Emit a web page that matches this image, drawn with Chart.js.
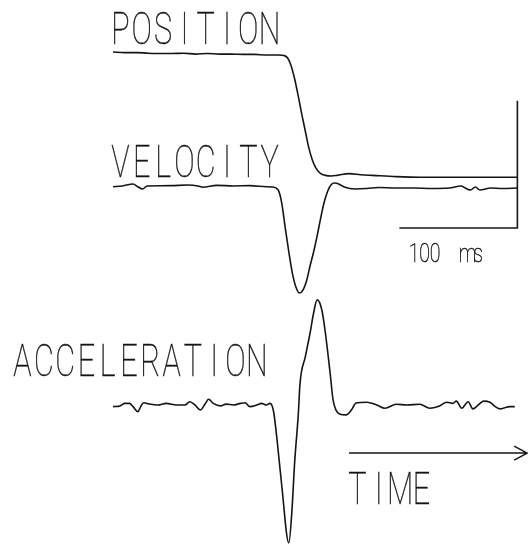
<!DOCTYPE html>
<html>
<head>
<meta charset="utf-8">
<style>
  html, body { margin: 0; padding: 0; background: #ffffff; }
  #wrap { width: 528px; height: 544px; position: relative; }
</style>
<script src="https://cdn.jsdelivr.net/npm/chart.js@4.4.1/dist/chart.umd.min.js"></script>
</head>
<body>
<div id="wrap"><canvas id="c"></canvas></div>
<script>
// Time in ms from the start of the record.
const posTime = [0, 10, 20, 30, 40, 50, 60, 70, 80, 90, 100, 110, 120, 130, 140, 145, 148, 151, 154, 157, 160, 163, 166, 169, 172, 176, 180, 185, 190, 200, 210, 220, 240, 260, 280, 300, 320, 342.5];
// Eye position (deg)
const posDeg = [0.5, 0.4, 0.4, 0.3, 0.25, 0.25, 0.3, 0.15, 0.25, 0.15, 0.15, 0.1, 0.1, 0, 0, -0.1, -0.5, -1.8, -4.0, -6.8, -9.8, -12.6, -15.4, -17.4, -18.7, -19.6, -19.9, -20.0, -19.9, -19.6, -19.8, -19.9, -20.1, -20.2, -20.2, -20.2, -20.2, -20.2];

const velTime = [0, 8, 17, 21, 25, 29, 40, 50, 63, 72, 76, 88, 102, 116, 130, 135, 140, 143, 146, 149, 152, 155, 158, 161, 164, 167, 170, 173, 176, 179, 182, 185, 188, 192, 196, 205, 215, 225, 240, 255, 270, 285, 295, 300, 303, 307, 311, 320, 330, 342.5];
// Eye velocity (deg/s)
const velDegPerSec = [2, 7, 20, 2, -13, 7, 8, 9, 13, 7, -2, 11, 7, 9, 2, 0, -20, -106, -271, -429, -568, -660, -700, -680, -620, -521, -429, -323, -205, -99, -26, 17, 26, 17, 0, -13, -10, -3, -7, -7, -10, -7, 7, -13, -20, 0, -20, -7, -10, -7];

const accTime = [0, 6, 10, 14, 17, 21, 23.5, 26, 31, 38, 45, 54, 61, 65, 69.5, 74, 78, 81, 85, 91, 96, 102, 108, 112, 116, 122, 126, 130, 133, 136, 139, 143, 149, 151.5, 154, 157, 158.5, 163, 167, 170, 173, 177, 180, 184, 186.5, 189, 192, 197.5, 202, 206, 215, 223.5, 230.5, 240, 249, 260, 268.5, 275.5, 283, 288, 291, 295.5, 301, 305, 309.5, 314, 319.5, 324, 328, 332, 336, 340.5];
// Eye acceleration (10^3 deg/s^2)
const accKDegPerSec2 = [-0.7, -0.4, 0.7, 0.7, -0.7, -2.9, -0.7, 1.0, 0.4, 0, 0.7, 0, 0, 1.4, 0, -2.2, 0.4, 2.5, 0.7, -0.4, 0.4, 0, 0.7, 1.0, -0.7, 0, 0.7, 0, 0.7, -2.6, -15, -35, -60, -47, -24.5, -4.3, 9.4, 21, 31.3, 40, 45.7, 41.3, 31.3, 13.9, 2.2, -2.2, -3.9, -4.3, -2.2, 0.9, 1.2, 0, -1.4, 0.3, 0, 0.3, -1.4, -0.7, 1.2, 0.7, 1.7, -1.4, 1.4, -1.7, 0, 1.7, 1.2, -0.7, -1.7, -1.2, -0.7, -0.7];

// Calibration bars: 100 ms horizontal, position vertical
const scaleBarMs = [242.7, 342.7, 342.7];
const scaleBarDeg = [-28.6, -28.6, -7.55];
const timeArrowMs = [200, 351];

const traceLabels = ['POSITION', 'VELOCITY', 'ACCELERATION'];
const timeLabel = 'TIME';
const scaleBarLabel = '100 ms';

const INK = '#151515';
const W = 528, H = 544;

// Horizontal range: value 0 at pixel zeroPx, growing to the right.
function xRangeFor(zeroPx, pxPerUnit, span) {
  const min = -zeroPx / pxPerUnit;
  return { min: min, max: min + span / pxPerUnit };
}
// Vertical range: value 0 at pixel zeroPx (from the top), growing upward.
function yRangeFor(zeroPx, pxPerUnit, span) {
  const max = zeroPx / pxPerUnit;
  return { min: max - span / pxPerUnit, max: max };
}
const xRange = xRangeFor(113, 1.18, W);
const posRange = yRangeFor(55, 6.05, H);
const velRange = yRangeFor(187, 1 / 6.6, H);
const accRange = yRangeFor(405, 2.3, H);

const pts = (xs, ys) => xs.map((x, i) => ({ x: x, y: ys[i] }));

// Plotter-style lettering: each glyph centred in a fixed-width cell, narrowed.
function drawSpaced(ctx, text, firstCenterX, baseline, cell, sizePx, scaleX, spaceAdv) {
  ctx.save();
  ctx.fillStyle = INK;
  ctx.strokeStyle = INK;
  ctx.lineWidth = 0.45;
  ctx.font = '100 ' + sizePx + 'px Roboto, "DejaVu Sans", sans-serif';
  ctx.textAlign = 'center';
  ctx.textBaseline = 'alphabetic';
  let x = firstCenterX;
  for (const ch of text) {
    if (ch === ' ') { x += spaceAdv; continue; }
    ctx.save();
    ctx.translate(x, baseline);
    ctx.scale(scaleX, 1);
    ctx.fillText(ch, 0, 0);
    ctx.strokeText(ch, 0, 0);
    ctx.restore();
    x += cell;
  }
  ctx.restore();
}

const annotations = {
  id: 'annotations',
  afterDatasetsDraw(chart) {
    const ctx = chart.ctx;
    const xs = chart.scales.x, ya = chart.scales.yAcc;
    // trace labels
    drawSpaced(ctx, traceLabels[0], 120.5, 44, 21.3, 45, 0.68, 21.3);
    drawSpaced(ctx, traceLabels[1], 120.5, 177, 21.3, 45, 0.68, 21.3);
    drawSpaced(ctx, traceLabels[2], 22.5, 376, 21.3, 45, 0.68, 21.3);
    drawSpaced(ctx, timeLabel, 357.5, 504, 21.3, 45, 0.68, 21.3);
    drawSpaced(ctx, scaleBarLabel, 414, 262, 10.5, 25, 0.78, 22);

    // time arrow
    const x0 = xs.getPixelForValue(timeArrowMs[0]);
    const x1 = xs.getPixelForValue(timeArrowMs[1]);
    const y = ya.getPixelForValue(-20.9);
    ctx.save();
    ctx.strokeStyle = INK;
    ctx.lineWidth = 1.5;
    ctx.beginPath();
    ctx.moveTo(x0, y); ctx.lineTo(x1, y);
    ctx.moveTo(x1 - 13, y - 7); ctx.lineTo(x1, y); ctx.lineTo(x1 - 13, y + 7);
    ctx.stroke();
    ctx.restore();
  }
};

function lineSet(data, axis) {
  return {
    data: data,
    yAxisID: axis,
    showLine: true,
    borderColor: INK,
    borderWidth: 1.6,
    pointRadius: 0,
    fill: false,
    cubicInterpolationMode: 'monotone',
    clip: false
  };
}

function build() {
  const scaleBar = lineSet(pts(scaleBarMs, scaleBarDeg), 'yPos');
  scaleBar.cubicInterpolationMode = 'default';
  scaleBar.tension = 0;
  new Chart(document.getElementById('c'), {
    type: 'scatter',
    data: {
      datasets: [
        lineSet(pts(posTime, posDeg), 'yPos'),
        lineSet(pts(velTime, velDegPerSec), 'yVel'),
        lineSet(pts(accTime, accKDegPerSec2), 'yAcc'),
        scaleBar
      ]
    },
    options: {
      responsive: true,
      maintainAspectRatio: false,
      animation: false,
      layout: { padding: 0 },
      plugins: { legend: { display: false }, tooltip: { enabled: false } },
      scales: {
        x: { type: 'linear', display: false, min: xRange.min, max: xRange.max },
        yPos: { type: 'linear', display: false, min: posRange.min, max: posRange.max },
        yVel: { type: 'linear', display: false, min: velRange.min, max: velRange.max },
        yAcc: { type: 'linear', display: false, min: accRange.min, max: accRange.max }
      }
    },
    plugins: [annotations]
  });
}

Promise.all([
  document.fonts.load('100 45px Roboto'),
  document.fonts.load('100 25px Roboto')
]).then(build, build);
</script>
</body>
</html>
